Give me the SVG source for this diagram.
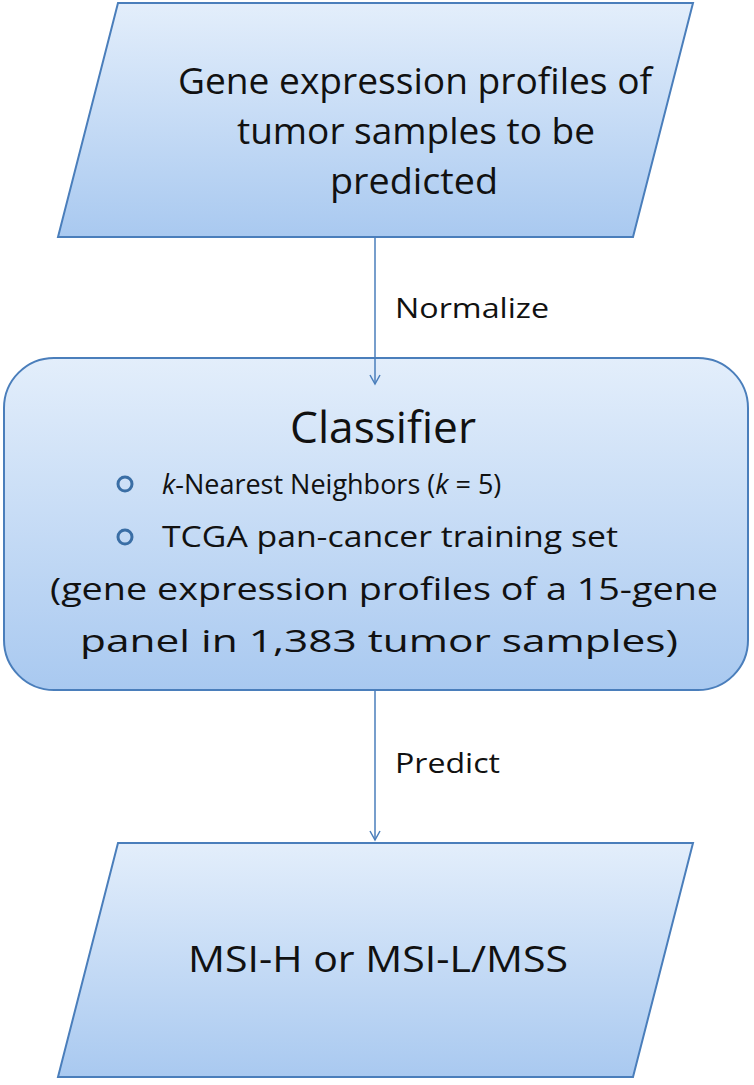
<svg xmlns="http://www.w3.org/2000/svg" width="754" height="1085" viewBox="0 0 754 1085">
<defs>
<linearGradient id="g" x1="0" y1="0" x2="0" y2="1">
<stop offset="0" stop-color="#e3eefb"/>
<stop offset="1" stop-color="#a9c9f0"/>
</linearGradient>
<marker id="a" markerWidth="12" markerHeight="12" refX="10" refY="6" orient="auto" markerUnits="userSpaceOnUse">
<path d="M1,1 L10,6 L1,11" fill="none" stroke="#4a7ebb" stroke-width="1.5"/>
</marker>
<style>
.s{fill:url(#g);stroke:#4a7ebb;stroke-width:2}
text{font-family:"Open Sans","Liberation Sans",sans-serif;fill:#111}
.t{font-size:36px;text-anchor:middle}
.m{font-size:29px}
.c{font-size:31px;text-anchor:middle}
.l{font-size:28px}
</style>
</defs>
<g id="input">
<polygon class="s" points="118,3 693,3 633,237 58,237"/>
<text class="t" x="415" y="94" textLength="474" lengthAdjust="spacingAndGlyphs">Gene expression profiles of</text>
<text class="t" x="416" y="144" textLength="358" lengthAdjust="spacingAndGlyphs">tumor samples to be</text>
<text class="t" x="414" y="194" textLength="168" lengthAdjust="spacingAndGlyphs">predicted</text>
</g>
<g id="classifier">
<rect class="s" x="4" y="358" width="744" height="332" rx="50"/>
<text class="t" x="383" y="443" style="font-size:44px" textLength="186" lengthAdjust="spacingAndGlyphs">Classifier</text>
<circle cx="125" cy="484" r="7" fill="none" stroke="#3a6ea5" stroke-width="3"/>
<circle cx="125" cy="537" r="7" fill="none" stroke="#3a6ea5" stroke-width="3"/>
<text class="m" x="162" y="494" style="font-size:27px"><tspan font-style="italic">k</tspan>-Nearest Neighbors (<tspan font-style="italic">k</tspan> = 5)</text>
<text class="m" x="162" y="547" textLength="456" lengthAdjust="spacingAndGlyphs">TCGA pan-cancer training set</text>
<text class="c" x="384" y="600" textLength="668" lengthAdjust="spacingAndGlyphs">(gene expression profiles of a 15-gene</text>
<text class="c" x="379" y="652" textLength="598" lengthAdjust="spacingAndGlyphs">panel in 1,383 tumor samples)</text>
</g>
<g id="output">
<polygon class="s" points="118,843 693,843 633,1077 58,1077"/>
<text class="t" x="378" y="972" textLength="380" lengthAdjust="spacingAndGlyphs">MSI-H or MSI-L/MSS</text>
</g>
<g id="connectors" stroke="#4a7ebb" stroke-width="1.5" fill="none">
<line x1="375" y1="237" x2="375" y2="384" marker-end="url(#a)"/>
<line x1="375" y1="690" x2="375" y2="840" marker-end="url(#a)"/>
</g>
<text class="l" x="395" y="318" textLength="154" lengthAdjust="spacingAndGlyphs">Normalize</text>
<text class="l" x="395" y="773" textLength="105" lengthAdjust="spacingAndGlyphs">Predict</text>
</svg>
